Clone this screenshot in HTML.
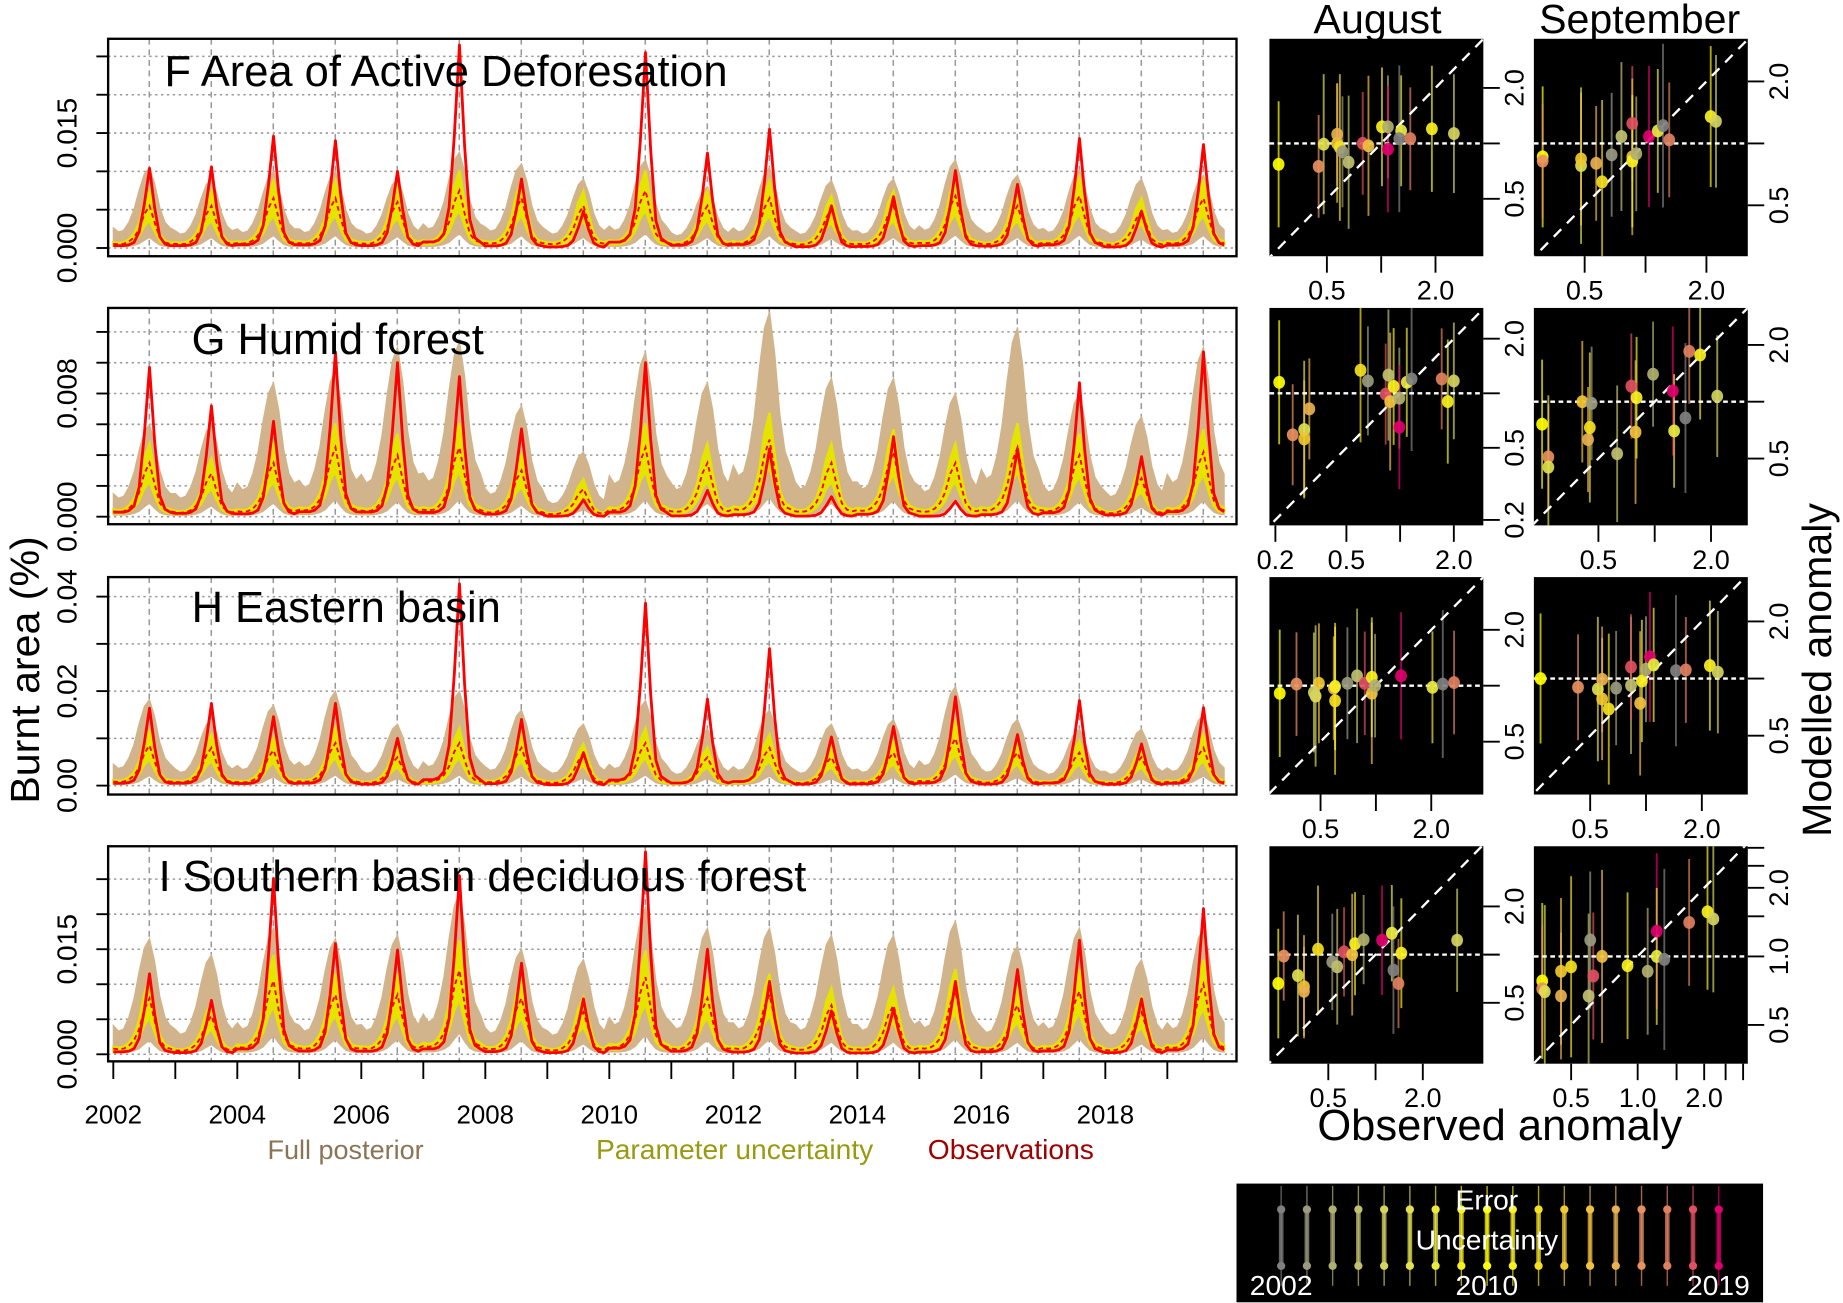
<!DOCTYPE html>
<html><head><meta charset="utf-8">
<style>
html,body{margin:0;padding:0;background:#fff;}
svg{display:block;font-family:"Liberation Sans",Arial,sans-serif;}
</style></head>
<body>
<svg id="fig" width="1843" height="1303" viewBox="0 0 1568 1108.6" preserveAspectRatio="none" xmlns="http://www.w3.org/2000/svg">
<defs></defs>
<text x="0" y="0" font-size="35" transform="translate(33,570) rotate(-90)" text-anchor="middle">Burnt area (%)</text>
<text x="1172" y="28" font-size="35" text-anchor="middle">August</text>
<text x="1395" y="28" font-size="35" text-anchor="middle">September</text>
<text x="0" y="0" font-size="35" transform="translate(1558,570) rotate(-90)" text-anchor="middle">Modelled anomaly</text>
<text x="1276" y="970" font-size="37" text-anchor="middle">Observed anomaly</text>
<text x="294" y="986" font-size="23" fill="#8b7355" text-anchor="middle">Full posterior</text>
<text x="625" y="986" font-size="24" fill="#9a9a10" text-anchor="middle">Parameter uncertainty</text>
<text x="860" y="986" font-size="24" fill="#a00000" text-anchor="middle">Observations</text>
</svg>
<script>
// ---------- line chart data (annual peak values, fraction of burnt area %) ----------
const years = [2002,2003,2004,2005,2006,2007,2008,2009,2010,2011,2012,2013,2014,2015,2016,2017,2018,2019];
const obsProfile  = [0.03,0.03,0.03,0.04,0.07,0.2,0.55,1.0,0.5,0.14,0.05,0.03];
const postProfile = [0.25,0.2,0.22,0.32,0.48,0.72,0.92,1.0,0.8,0.5,0.32,0.25];
const parProfile  = [0.1,0.09,0.1,0.15,0.25,0.45,0.8,1.0,0.6,0.25,0.13,0.1];
const lowProfile  = [0.03,0.03,0.03,0.04,0.06,0.1,0.18,0.25,0.15,0.07,0.04,0.03];

const F_obs  = [0.0104,0.0106,0.0146,0.014,0.010,0.0265,0.009,0.0048,0.0255,0.0124,0.0155,0.0055,0.0067,0.0101,0.0083,0.0143,0.0048,0.0135];
const F_post = [0.0105,0.009,0.010,0.010,0.009,0.0125,0.011,0.009,0.0115,0.008,0.0105,0.0088,0.009,0.0115,0.0095,0.0102,0.009,0.0095];
const F_par  = [0.0055,0.0055,0.0065,0.0065,0.006,0.0075,0.0065,0.0055,0.0075,0.0055,0.0065,0.005,0.0055,0.0068,0.0055,0.0068,0.0048,0.0065];

const G_obs  = [0.0097,0.0072,0.0062,0.0107,0.010,0.0091,0.0057,0.0011,0.010,0.0017,0.0044,0.0013,0.0052,0.001,0.0044,0.0087,0.0039,0.0107];
const G_post = [0.006,0.006,0.0087,0.0095,0.011,0.0114,0.0072,0.0042,0.0107,0.0087,0.0133,0.009,0.009,0.008,0.0123,0.008,0.0065,0.011];
const G_par  = [0.0035,0.0028,0.0035,0.0045,0.004,0.0045,0.003,0.0018,0.0045,0.0035,0.005,0.0035,0.0042,0.0035,0.0045,0.004,0.0025,0.0042];

const H_obs  = [0.0164,0.0174,0.0146,0.0174,0.010,0.0427,0.014,0.007,0.0386,0.0183,0.029,0.0103,0.0125,0.0188,0.0108,0.018,0.0088,0.0165];
const H_post = [0.0182,0.014,0.017,0.020,0.013,0.020,0.016,0.013,0.018,0.012,0.016,0.013,0.014,0.021,0.014,0.012,0.012,0.015];
const H_par  = [0.0085,0.008,0.0075,0.009,0.006,0.009,0.008,0.0065,0.009,0.006,0.008,0.006,0.007,0.010,0.007,0.007,0.006,0.008];

const I_obs  = [0.0115,0.0077,0.0251,0.0158,0.0149,0.0255,0.013,0.0079,0.0289,0.015,0.0104,0.0062,0.0065,0.0104,0.0121,0.0163,0.0079,0.0208];
const I_post = [0.0165,0.0142,0.018,0.0165,0.017,0.023,0.015,0.0135,0.021,0.018,0.018,0.017,0.017,0.019,0.0155,0.018,0.0135,0.018];
const I_par  = [0.008,0.0055,0.0105,0.0085,0.0085,0.012,0.008,0.006,0.011,0.008,0.0085,0.007,0.007,0.009,0.007,0.009,0.006,0.010];

const F_ticks = [0,0.005,0.01,0.015,0.02,0.025];
const F_labels = ["0.000","","","0.015","",""];
const G_ticks = [0,0.002,0.004,0.006,0.008,0.01,0.012];
const G_labels = ["0.000","","","","0.008","",""];
const H_ticks = [0,0.01,0.02,0.03,0.04];
const H_labels = ["0.00","","0.02","","0.04"];
const I_ticks = [0,0.005,0.01,0.015,0.02,0.025];
const I_labels = ["0.000","","","0.015","",""];
const yearTickLabels = ["2002","","2004","","2006","","2008","","2010","","2012","","2014","","2016","","2018",""];

// ---------- scatter data: [observed anomaly], [modelled anomaly] ----------
const FA_x = [0.27,0.45,0.48,0.57,0.57,0.59,0.61,0.66,0.79,0.85,1.01,1.09,1.09,1.29,1.26,1.45,1.91,2.53];
const FA_y = [0.77,0.75,0.99,1.0,1.12,0.95,0.90,0.79,1.0,0.97,1.23,1.23,0.93,1.17,1.06,1.06,1.2,1.13];
const FS_x = [0.31,0.31,0.48,0.48,0.57,0.61,0.68,0.76,0.86,0.86,0.86,0.90,1.04,1.15,1.22,1.31,2.1,2.23];
const FS_y = [0.86,0.82,0.78,0.84,0.80,0.65,0.88,1.08,1.25,0.86,0.82,0.89,1.08,1.15,1.22,1.04,1.35,1.28];
const GA_x = [0.21,0.25,0.29,0.29,0.31,0.60,0.66,0.86,0.83,0.88,0.92,0.99,0.99,1.09,1.16,1.71,1.85,2.0];
const GA_y = [1.15,0.59,0.63,0.56,0.82,1.34,1.17,1.26,0.99,0.90,1.09,0.94,0.65,1.15,1.20,1.20,0.90,1.17];
const GS_x = [0.25,0.27,0.27,0.41,0.44,0.45,0.46,0.63,0.75,0.79,0.80,0.98,1.25,1.27,1.46,1.53,1.75,2.16];
const GS_y = [0.76,0.51,0.45,1.0,0.63,0.73,0.98,0.53,1.21,0.69,1.05,1.40,1.14,0.70,0.82,1.85,1.77,1.07];
const HA_x = [0.30,0.37,0.47,0.49,0.59,0.60,0.70,0.79,0.87,0.95,0.95,0.99,1.37,2.03,2.31,2.66,0.60,0.46];
const HA_y = [0.91,1.02,0.88,1.03,0.97,0.83,1.03,1.13,1.03,0.91,1.11,1.0,1.13,0.98,1.02,1.04,0.99,0.92];
const HS_x = [0.27,0.43,0.55,0.58,0.58,0.63,0.69,0.83,0.83,0.93,0.95,1.0,1.05,1.1,1.45,1.64,2.21,2.44];
const HS_y = [1.0,0.90,0.88,0.78,0.99,0.69,0.89,0.92,1.15,0.74,0.97,1.12,1.30,1.18,1.10,1.11,1.17,1.08];
const IA_x = [0.24,0.26,0.32,0.35,0.35,0.43,0.53,0.57,0.63,0.71,0.74,0.84,1.10,1.27,1.30,1.40,1.46,3.31];
const IA_y = [0.66,0.98,0.74,0.63,0.59,1.08,0.90,0.84,1.04,1.0,1.17,1.24,1.23,1.36,0.80,0.66,1.02,1.23];
const IS_x = [0.37,0.37,0.38,0.45,0.45,0.50,0.61,0.60,0.63,0.69,0.90,1.11,1.22,1.22,1.32,1.71,2.07,2.2];
const IS_y = [0.78,0.72,0.70,0.86,0.67,0.90,1.18,0.67,0.82,1.0,0.91,0.86,1.29,1.0,0.97,1.41,1.57,1.46];
const errHalf = [2.2,1.9,2.4,2.1,1.9,2.5,2.0,2.3,1.9,2.4,2.1,1.9,2.2,2.0,2.5,1.9,2.2,2.1];
const yearColors = ["#808080","#9a9a80","#b0b070","#c0c070","#d4d460","#e0e050","#eaea40","#f8f020","#ffff00","#f8f020","#f4e020","#f0c830","#f0c040","#e8b050","#e89060","#e08060","#e05060","#e0006e"];
const pointYearOrder = [8,14,5,11,13,10,1,3,16,12,7,2,17,6,0,15,9,4];

// ---------- drawing ----------
const NS = "http://www.w3.org/2000/svg";
const svg = document.getElementById("fig");
const defs = svg.querySelector("defs");
function mk(tag, attrs, parent){
  const e = document.createElementNS(NS, tag);
  for (const k in attrs) e.setAttribute(k, attrs[k]);
  (parent||svg).appendChild(e);
  return e;
}
const X0 = 92, X1 = 1052;
function xOfTime(t){ return 96.4 + (t - 2002) * 52.75; }

const panels = [
  {key:"f", title:"F Area of Active Deforesation", tx:140, ty:73, top:33, bot:218, y0:211, ppu:6520, obs:F_obs, post:F_post, par:F_par, ticks:F_ticks, labels:F_labels},
  {key:"g", title:"G Humid forest", tx:163, ty:301, top:262, bot:446, y0:439.6, ppu:13100, obs:G_obs, post:G_post, par:G_par, ticks:G_ticks, labels:G_labels},
  {key:"h", title:"H Eastern basin", tx:163, ty:529, top:491, bot:676, y0:668.4, ppu:4020, obs:H_obs, post:H_post, par:H_par, ticks:H_ticks, labels:H_labels},
  {key:"i", title:"I Southern basin deciduous forest", tx:135, ty:758, top:720, bot:903, y0:897, ppu:5960, obs:I_obs, post:I_post, par:I_par, ticks:I_ticks, labels:I_labels}
];

panels.forEach((p, pi) => {
  const g = mk("g", {});
  
  
  const cp = mk("clipPath", {id:"clip-" + p.key}, defs);
  mk("rect", {x:X0, y:p.top, width:X1-X0, height:p.bot-p.top}, cp);
  const yOf = v => p.y0 - v * p.ppu;
  const grid = mk("g", {stroke:"#999", "stroke-width":1.3, "stroke-dasharray":"3,3"}, g);
  
  
  p.ticks.forEach(v => mk("line", {x1:X0, x2:X1, y1:yOf(v), y2:yOf(v), "stroke-dasharray":"2,3"}, grid));
  years.forEach(yr => { const x = xOfTime(yr + 0.58); mk("line", {x1:x, x2:x, y1:p.top, y2:p.bot, "stroke-dasharray":"5,4"}, grid); });
  const n = years.length * 12;
  const upper=[], lower=[], pLo=[], pHi=[], pMed=[], ob=[];
  for (let m = 0; m < n; m++){
    const yi = Math.floor(m/12), mo = m % 12;
    const x = xOfTime(2002 + m/12);
    upper.push([x, yOf(p.post[yi]*postProfile[mo])]);
    lower.push([x, yOf(p.par[yi]*lowProfile[mo])]);
    pHi.push([x, yOf(p.par[yi]*parProfile[mo]*1.35)]);
    pLo.push([x, yOf(p.par[yi]*parProfile[mo]*0.65)]);
    pMed.push([x, yOf(p.par[yi]*parProfile[mo])]);
    ob.push([x, yOf(p.obs[yi]*obsProfile[mo])]);
  }
  const pts = a => a.map(q => q[0].toFixed(1)+","+q[1].toFixed(1)).join(" ");
  const cg = mk("g", {"clip-path":"url(#clip-" + p.key + ")"}, g);
  const post = mk("polygon", {points: pts(upper) + " " + pts(lower.slice().reverse()), fill:"#d2b48c", stroke:"#d2b48c", "stroke-width":1}, cg);
  
  
  const par = mk("polygon", {points: pts(pHi) + " " + pts(pLo.slice().reverse()), fill:"#e4e400", stroke:"#e4e400", "stroke-width":2}, cg);
  
  
  const med = mk("polyline", {points: pts(pMed), fill:"none", stroke:"#ff0000", "stroke-width":1.6, "stroke-dasharray":"4,3"}, cg);
  
  
  const obl = mk("polyline", {points: pts(ob), fill:"none", stroke:"#ff0000", "stroke-width":2.4, "stroke-linejoin":"round"}, cg);
  
  
  const fr = mk("rect", {x:X0, y:p.top, width:X1-X0, height:p.bot-p.top, fill:"none", stroke:"#000", "stroke-width":2}, g);
  
  
  p.ticks.forEach((v, i) => {
    mk("line", {x1:X0-10, x2:X0, y1:yOf(v), y2:yOf(v), stroke:"#000", "stroke-width":1.6}, g);
    if (p.labels[i]) {
      const t = mk("text", {x:0, y:0, "font-size":24, "text-anchor":"middle", transform:"translate(65," + yOf(v).toFixed(1) + ") rotate(-90)"}, g);
      t.textContent = p.labels[i];
      
      
    }
  });
  const tt = mk("text", {x:p.tx, y:p.ty, "font-size":37}, g);
  tt.textContent = p.title;
  
  
  if (pi === 3) {
    years.forEach((yr, i) => {
      const x = xOfTime(yr);
      mk("line", {x1:x, x2:x, y1:p.bot, y2:p.bot+15, stroke:"#000", "stroke-width":1.6}, g);
      if (yearTickLabels[i]) {
        const t = mk("text", {x:x, y:956, "font-size":22, "text-anchor":"middle"}, g);
        t.textContent = yearTickLabels[i];
        
        
      }
    });
  }
});

// ---------- scatter panels ----------
const sPanels = [
  {key:"f-aug", L:1080, T:33, x1:1175.1, xk:46.2, y1:122, yk:47.2, xs:FA_x, ys:FA_y, xt:[0.5,1,2], xl:["0.5","","2.0"], yt:[0.5,1,2], yl:["0.5","","2.0"]},
  {key:"f-sep", L:1305, T:33, x1:1400, xk:51.8, y1:122, yk:52.7, xs:FS_x, ys:FS_y, xt:[0.5,1,2], xl:["0.5","","2.0"], yt:[0.5,1,2], yl:["0.5","","2.0"]},
  {key:"g-aug", L:1080, T:262, x1:1191.2, xk:45.7, y1:334.6, yk:46.4, xs:GA_x, ys:GA_y, xt:[0.2,0.5,1,2], xl:["0.2","0.5","","2.0"], yt:[0.2,0.5,1,2], yl:["0.2","0.5","","2.0"]},
  {key:"g-sep", L:1305, T:262, x1:1407.8, xk:47.9, y1:341.8, yk:48.3, xs:GS_x, ys:GS_y, xt:[0.5,1,2], xl:["0.5","","2.0"], yt:[0.5,1,2], yl:["0.5","","2.0"]},
  {key:"h-aug", L:1080, T:491, x1:1170.6, xk:47.1, y1:583.4, yk:47.6, xs:HA_x, ys:HA_y, xt:[0.5,1,2], xl:["0.5","","2.0"], yt:[0.5,1,2], yl:["0.5","","2.0"]},
  {key:"h-sep", L:1305, T:491, x1:1400.4, xk:47.5, y1:577.3, yk:48.6, xs:HS_x, ys:HS_y, xt:[0.5,1,2], xl:["0.5","","2.0"], yt:[0.5,1,2], yl:["0.5","","2.0"]},
  {key:"i-aug", L:1080, T:720, x1:1170.3, xk:40.2, y1:812.2, yk:41, xs:IA_x, ys:IA_y, xt:[0.5,1,2], xl:["0.5","","2.0"], yt:[0.5,1,2], yl:["0.5","","2.0"]},
  {key:"i-sep", L:1305, T:720, x1:1393.3, xk:56.6, y1:813.7, yk:58.3, xs:IS_x, ys:IS_y, xt:[0.5,1,1.5,2,2.5,3], xl:["0.5","1.0","","2.0","",""], yt:[0.5,1,1.5,2,2.5,3], yl:["0.5","1.0","","2.0","",""]}
];
const SW = 182, SH = 185;
sPanels.forEach(s => {
  const g = mk("g", {});
  
  
  const xOf = v => s.x1 + Math.log2(v) * s.xk;
  const yOf = v => s.y1 - Math.log2(v) * s.yk;
  const cp = mk("clipPath", {id:"sclip-" + s.key}, defs);
  mk("rect", {x:s.L, y:s.T, width:SW, height:SH}, cp);
  const bg = mk("rect", {x:s.L, y:s.T, width:SW, height:SH, fill:"#000"}, g);
  
  
  const cg = mk("g", {"clip-path":"url(#sclip-" + s.key + ")"}, g);
  s.xs.forEach((xv, i) => {
    const yv = s.ys[i], c = yearColors[pointYearOrder[i]];
    const e = mk("line", {x1:xOf(xv), x2:xOf(xv), y1:yOf(yv*errHalf[i]), y2:yOf(yv/errHalf[i]), stroke:c, "stroke-width":1.6, opacity:0.7}, cg);
    
    
  });
  const diag = mk("line", {x1:xOf(0.05), y1:yOf(0.05), x2:xOf(20), y2:yOf(20), stroke:"#fff", "stroke-width":2, "stroke-dasharray":"9,7"}, cg);
  
  
  const hl = mk("line", {x1:s.L, x2:s.L+SW, y1:yOf(1), y2:yOf(1), stroke:"#fff", "stroke-width":2, "stroke-dasharray":"4,3"}, cg);
  
  
  s.xs.forEach((xv, i) => {
    const c = yearColors[pointYearOrder[i]];
    const d = mk("ellipse", {cx:xOf(xv), cy:yOf(s.ys[i]), rx:5, ry:5.5, fill:c, opacity:0.92}, cg);
    
    
  });
  s.xt.forEach((v, i) => {
    const x = xOf(v);
    mk("line", {x1:x, x2:x, y1:s.T+SH, y2:s.T+SH+14, stroke:"#000", "stroke-width":1.6}, g);
    if (s.xl[i]) {
      const t = mk("text", {x:x, y:s.T+SH+37, "font-size":23, "text-anchor":"middle"}, g);
      t.textContent = s.xl[i];
      
      
    }
  });
  s.yt.forEach((v, i) => {
    const y = yOf(v);
    mk("line", {x1:s.L+SW, x2:s.L+SW+14, y1:y, y2:y, stroke:"#000", "stroke-width":1.6}, g);
    if (s.yl[i]) {
      const t = mk("text", {x:0, y:0, "font-size":23, "text-anchor":"middle", transform:"translate(" + (s.L+SW+34) + "," + y.toFixed(1) + ") rotate(-90)"}, g);
      t.textContent = s.yl[i];
      
      
    }
  });
});

// ---------- year colour legend ----------
const lg = mk("g", {});


mk("rect", {x:1052, y:1007, width:448, height:101, fill:"#000"}, lg);
yearColors.forEach((c, i) => {
  const x = 1090 + i * 21.9;
  mk("line", {x1:x, x2:x, y1:1009, y2:1094, stroke:c, "stroke-width":1.2, opacity:0.7}, lg);
  mk("line", {x1:x, x2:x, y1:1029, y2:1077, stroke:c, "stroke-width":4, opacity:0.75}, lg);
  mk("circle", {cx:x, cy:1029, r:3.5, fill:c}, lg);
  mk("circle", {cx:x, cy:1077, r:3.5, fill:c}, lg);
});
[["Error",1265,1029],["Uncertainty",1265,1063],["2002",1090,1102],["2010",1265,1102],["2019",1462,1102]].forEach(a => {
  const t = mk("text", {x:a[1], y:a[2], "font-size":24, fill:"#fff", "text-anchor":"middle"}, lg);
  t.textContent = a[0];
  
  
});
</script>
</body></html>
